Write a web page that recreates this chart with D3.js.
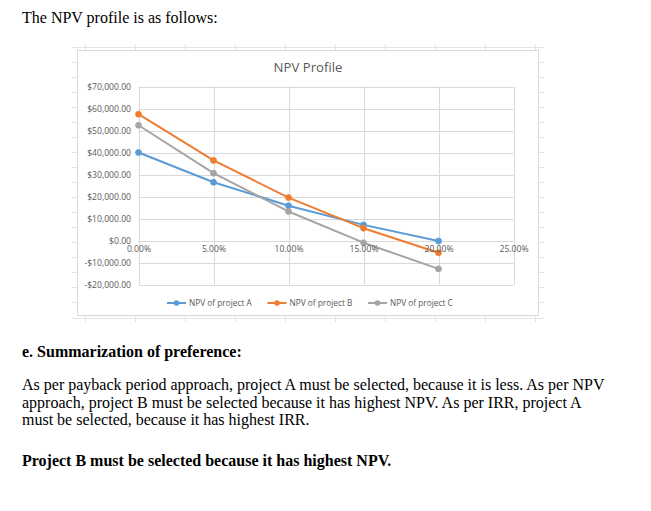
<!DOCTYPE html>
<html>
<head>
<meta charset="utf-8">
<script src="https://cdn.jsdelivr.net/npm/d3@7"></script>
<style>
  html, body { margin: 0; padding: 0; background: #fff; }
  svg { display: block; }
</style>
</head>
<body>
<svg id="page" width="651" height="511"></svg>
<script>
// ---- Data ----
const rates = [0, 0.05, 0.10, 0.15, 0.20];
const npvA = [40000, 26500, 15800, 7100, -200];
const npvB = [57400, 36400, 19500, 5600, -5600];
const npvC = [52400, 30600, 13200, -1000, -12900];
const seriesNames = ["NPV of project A", "NPV of project B", "NPV of project C"];
const xTicks = [0, 0.05, 0.10, 0.15, 0.20, 0.25];
const yTicks = [-20000, -10000, 0, 10000, 20000, 30000, 40000, 50000, 60000, 70000];
const chartTitle = "NPV Profile";
const introText = "The NPV profile is as follows:";
const headingText = "e. Summarization of preference:";
const paraLines = [
  "As per payback period approach, project A must be selected, because it is less. As per NPV",
  "approach, project B must be selected because it has highest NPV. As per IRR, project A",
  "must be selected, because it has highest IRR."
];
const conclusionText = "Project B must be selected because it has highest NPV.";

const colors = ["#5B9BD5", "#ED7D31", "#A5A5A5"];
const allSeries = [npvA, npvB, npvC];

const svg = d3.select("#page");
const serif = "'Liberation Serif', 'Times New Roman', serif";
const sans = "'Open Sans', 'Noto Sans', sans-serif";

// ---- Document text ----
svg.append("text").attr("x", 22).attr("y", 23)
  .style("font-family", serif).style("font-size", "16px").attr("fill", "#000")
  .text(introText);

svg.append("text").attr("x", 22).attr("y", 357)
  .style("font-family", serif).style("font-size", "16px").style("font-weight", "bold").attr("fill", "#000")
  .text(headingText);

paraLines.forEach((t, i) => {
  svg.append("text").attr("x", 22).attr("y", 390 + i * 17.5)
    .style("font-family", serif).style("font-size", "16px").attr("fill", "#000")
    .text(t);
});

svg.append("text").attr("x", 22).attr("y", 466)
  .style("font-family", serif).style("font-size", "16px").style("font-weight", "bold").attr("fill", "#000")
  .text(conclusionText);

// ---- Faint spreadsheet cell grid around chart ----
const bg = svg.append("g").attr("stroke", "#e4e4e4").attr("stroke-width", 1);
bg.append("line").attr("x1", 72).attr("x2", 544).attr("y1", 47.5).attr("y2", 47.5);
bg.append("line").attr("x1", 72).attr("x2", 544).attr("y1", 318.5).attr("y2", 318.5);
d3.range(85, 545, 50).forEach(x => {
  bg.append("line").attr("x1", x + 0.5).attr("x2", x + 0.5).attr("y1", 44).attr("y2", 50);
  bg.append("line").attr("x1", x + 0.5).attr("x2", x + 0.5).attr("y1", 316).attr("y2", 322);
});
d3.range(62, 316, 15).forEach(y => {
  bg.append("line").attr("x1", 539).attr("x2", 544).attr("y1", y + 0.5).attr("y2", y + 0.5);
  bg.append("line").attr("x1", 72).attr("x2", 77).attr("y1", y + 0.5).attr("y2", y + 0.5);
});

// ---- Chart frame ----
svg.append("rect").attr("x", 77.5).attr("y", 50.5).attr("width", 461).attr("height", 265)
  .attr("fill", "#fff").attr("stroke", "#d9d9d9").attr("stroke-width", 1);

svg.append("text").attr("x", 308).attr("y", 72).attr("text-anchor", "middle")
  .style("font-family", sans).style("font-size", "13.2px").attr("fill", "#595959")
  .text(chartTitle);

// ---- Scales ----
const x = d3.scaleLinear().domain([0, 0.25]).range([138.5, 513.5]);
const y = d3.scaleLinear().domain([-20000, 70000]).range([284.5, 86.5]);

const plot = svg.append("g");

// gridlines
plot.append("g").selectAll("line").data(yTicks).join("line")
  .attr("x1", x(0)).attr("x2", x(0.25))
  .attr("y1", d => Math.round(y(d)) + 0.5).attr("y2", d => Math.round(y(d)) + 0.5)
  .attr("stroke", "#d9d9d9").attr("stroke-width", 1);
plot.append("g").selectAll("line").data(xTicks).join("line")
  .attr("x1", d => Math.round(x(d)) + 0.5).attr("x2", d => Math.round(x(d)) + 0.5)
  .attr("y1", y(70000)).attr("y2", y(-20000))
  .attr("stroke", "#d9d9d9").attr("stroke-width", 1);

// y axis labels
const yFmt = d => (d < 0 ? "-$" : "$") + d3.format(",.2f")(Math.abs(d));
const yAxis = d3.axisLeft(y).tickValues(yTicks).tickFormat(yFmt).tickSize(0).tickPadding(0);
const yg = svg.append("g").attr("transform", "translate(131,0)").call(yAxis);
yg.select(".domain").remove();
yg.selectAll("text").style("font-family", sans).style("font-size", "8.6px").attr("fill", "#595959");

// x axis labels at zero line
const xFmt = d3.format(".2%");
const xAxis = d3.axisBottom(x).tickValues(xTicks).tickFormat(xFmt).tickSize(0).tickPadding(0);
const xg = svg.append("g").attr("transform", `translate(0,${y(0) + 8.5})`).call(xAxis);
xg.select(".domain").remove();
xg.selectAll("text").attr("dy", "0.32em").style("font-family", sans).style("font-size", "8.6px").attr("fill", "#595959");

// ---- Series ----
const line = d3.line().x((d, i) => x(rates[i])).y(d => y(d));
allSeries.forEach((vals, si) => {
  plot.append("path").datum(vals).attr("d", line)
    .attr("fill", "none").attr("stroke", colors[si]).attr("stroke-width", 2)
    .attr("stroke-linejoin", "round").attr("stroke-linecap", "round");
  plot.append("g").selectAll("circle").data(vals).join("circle")
    .attr("cx", (d, i) => x(rates[i])).attr("cy", d => y(d)).attr("r", 3)
    .attr("fill", colors[si]).attr("stroke", colors[si]).attr("stroke-width", 0.75);
});

// ---- Legend ----
const legend = svg.append("g").attr("transform", "translate(167,303)");
seriesNames.forEach((name, i) => {
  const g = legend.append("g").attr("transform", `translate(${i * 100.5},0)`);
  g.append("line").attr("x1", 0).attr("x2", 19).attr("y1", 0).attr("y2", 0)
    .attr("stroke", colors[i]).attr("stroke-width", 2);
  g.append("circle").attr("cx", 9.5).attr("cy", 0).attr("r", 2.8).attr("fill", colors[i]);
  g.append("text").attr("x", 22).attr("y", 0).attr("dy", "0.34em")
    .style("font-family", sans).style("font-size", "8.3px").attr("fill", "#595959")
    .text(name);
});
</script>
</body>
</html>
